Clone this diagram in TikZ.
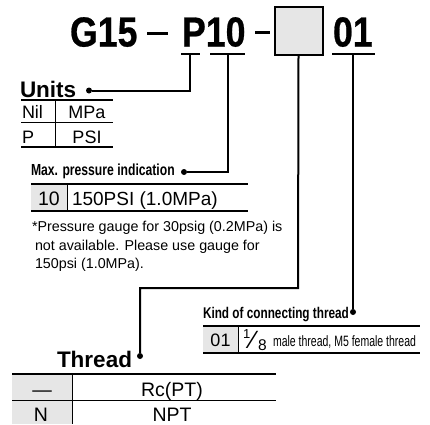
\documentclass[tikz,border=0pt]{standalone}
\usepackage{fontspec}
\setmainfont{Liberation Sans}
\newfontfamily\titlef[FakeStretch=0.85,FakeBold=0.6]{Liberation Sans}
\newfontfamily\condf[FakeStretch=0.76]{Liberation Sans}
\newfontfamily\narrowf[FakeStretch=0.70]{Liberation Sans}
\definecolor{cellgray}{HTML}{E6E6E6}
\begin{document}
\begin{tikzpicture}[x=1pt,y=-1pt,
  txt/.style={inner sep=0pt, outer sep=0pt},
  titletext/.style={txt, anchor=base west, font=\titlef\bfseries\fontsize{42}{42}\selectfont},
  headbig/.style={txt, anchor=base west, font=\bfseries\fontsize{22.5}{22.5}\selectfont},
  headcond/.style={txt, anchor=base west, font=\condf\bfseries\fontsize{16}{16}\selectfont},
  cell/.style={txt, anchor=base, font=\fontsize{19.5}{19.5}\selectfont},
  ucell/.style={txt, anchor=base, font=\fontsize{18}{18}\selectfont},
  conn/.style={line width=2pt},
  uline/.style={line width=2pt},
  topline/.style={line width=2pt},
  rowline/.style={line width=1.2pt},
  divline/.style={line width=1pt},
  dot/.style={circle, fill=black, inner sep=0pt, minimum size=6pt}
]
\useasboundingbox (0,0) rectangle (430,424);

% ---- title ----
\node[titletext] (g15) at (70,46.5) {G15};
\node[titletext] (p10) at (182,46.5) {P10};
\node[titletext] (t01) at (333,46.5) {01};
\coordinate (d1a) at (147,33); \coordinate (d1b) at (168,33);
\coordinate (d2a) at (255,32); \coordinate (d2b) at (270,32);
\draw[line width=3pt] (d1a) -- (d1b);
\draw[line width=3pt] (d2a) -- (d2b);
\node[draw, line width=2pt, fill=cellgray, minimum width=48pt, minimum height=48pt, inner sep=0pt] (box) at (298.5,30.5) {};

% underlines
\coordinate (uPa) at (181,54); \coordinate (uPb) at (200,54);
\coordinate (u10a) at (210,54); \coordinate (u10b) at (245,54);
\coordinate (u01a) at (332,54); \coordinate (u01b) at (375,54);
\draw[uline] (uPa) -- (uPb);
\draw[uline] (u10a) -- (u10b);
\draw[uline] (u01a) -- (u01b);

% dots
\node[dot] (udot) at (89,90.5) {};
\node[dot] (mdot) at (184,172) {};
\node[dot] (tdot) at (140,356) {};
\node[dot] (kdot) at (353,312) {};

% connectors
\coordinate (cP) at (190,54);
\coordinate (c10) at (228,54);
\coordinate (c01) at (353,54);
\coordinate (tturn) at (298,288);
\draw[conn] (cP) |- (udot);
\draw[conn] (c10) |- (mdot);
\draw[conn] (box.south) -- (tturn) -| (tdot);
\draw[conn] (c01) -- (kdot);

% ---- Units ----
\node[headbig] (units) at (20,97) {Units};
\draw[topline] (21,99.5) -- (113,99.5);
\draw[rowline] (21,122.5) -- (113,122.5);
\draw[rowline] (21,147) -- (113,147);
\draw[divline] (55,100) -- (55,147);
\node[ucell, anchor=base west] (nil) at (22,118.5) {Nil};
\node[ucell] (mpa) at (87,118.5) {MPa};
\node[ucell, anchor=base west] (pp) at (22,143) {P};
\node[ucell] (psi) at (87,143) {PSI};

% ---- Max pressure ----
\node[headcond] (maxh) at (31,175) {Max. pressure indication};
\fill[cellgray] (31,185) rectangle (67,211);
\draw[topline] (31,184) -- (248,184);
\draw[rowline] (31,211) -- (248,211);
\draw[divline] (67,185) -- (67,211);
\node[cell] (m10) at (49,205) {10};
\node[cell, anchor=base west, font=\fontsize{19}{19}\selectfont] (m150) at (72,205) {150PSI (1.0MPa)};
\node[txt, anchor=base west, align=left, font=\fontsize{14.3}{18.5}\selectfont] (note) at (32,268.7)
  {*Pressure gauge for 30psig (0.2MPa) is\\\hspace{3pt}not available. Please use gauge for\\\hspace{3pt}150psi (1.0MPa).};

% ---- Kind of connecting thread ----
\node[headcond, font=\condf\bfseries\fontsize{15.5}{15.5}\selectfont] (kindh) at (203,318) {Kind of connecting thread};
\fill[cellgray] (203,327) rectangle (238,352.5);
\draw[topline] (203,326) -- (420,326);
\draw[rowline] (203,353) -- (420,353);
\draw[divline] (238,327) -- (238,353);
\node[cell, font=\fontsize{18}{18}\selectfont] (k01) at (220.5,346) {01};
\node[txt, anchor=base west, font=\fontsize{13}{13}\selectfont] (fnum) at (243,338) {1};
\node[txt, font=\fontsize{25}{25}\selectfont] (fslash) at (253,339.5) {⁄};
\node[txt, anchor=base west, font=\fontsize{15.5}{15.5}\selectfont] (fden) at (258,350.5) {8};
\node[txt, anchor=base west, font=\narrowf\fontsize{15}{15}\selectfont] (kdesc) at (273,346) {male thread, M5 female thread};

% ---- Thread ----
\node[headbig] (thr) at (57,367) {Thread};
\fill[cellgray] (12,375) rectangle (72,424);
\draw[topline] (12,374) -- (276,374);
\draw[rowline] (12,400.5) -- (276,400.5);
\draw[divline] (72,375) -- (72,424);
\node[cell] (tdash) at (42,396.5) {—};
\node[cell] (rc) at (172,396.5) {Rc(PT)};
\node[cell] (tn) at (41,421) {N};
\node[cell] (npt) at (172,421) {NPT};
\end{tikzpicture}
\end{document}
